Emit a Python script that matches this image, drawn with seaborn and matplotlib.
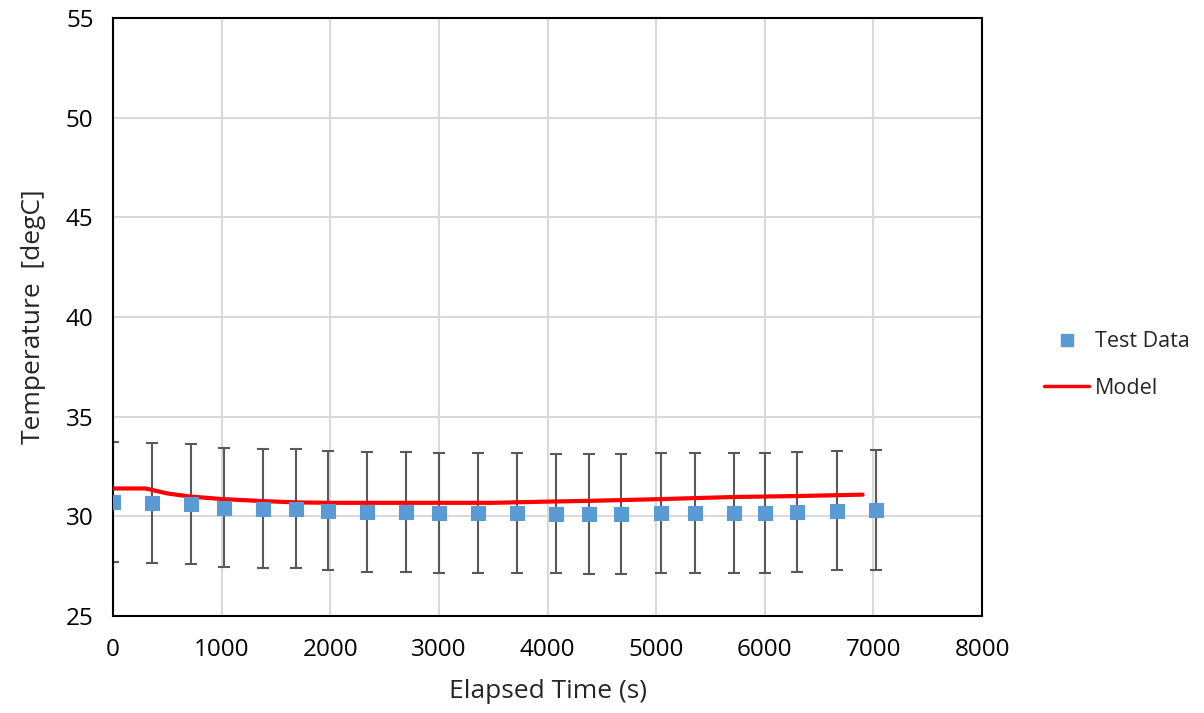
import matplotlib.pyplot as plt
import matplotlib.lines as mlines
import seaborn as sns
import pandas as pd

# Test data (mean temperature, error bar +/-)
test_time = [0, 360, 720, 1020, 1380, 1680, 1980, 2340, 2700, 3000, 3360, 3720,
             4080, 4380, 4680, 5040, 5360, 5720, 6000, 6300, 6660, 7020]
test_temp = [30.73, 30.68, 30.63, 30.44, 30.39, 30.39, 30.29, 30.22, 30.22, 30.17, 30.17, 30.17,
             30.14, 30.12, 30.12, 30.17, 30.17, 30.17, 30.17, 30.22, 30.29, 30.32]
test_err = [3.0] * len(test_time)

# Model curve
model_time = [0, 300, 500, 700, 1000, 1400, 1700, 2000, 3500, 4000, 4400, 5000, 5700, 6300, 6900]
model_temp = [31.4, 31.4, 31.15, 31.0, 30.87, 30.76, 30.70, 30.68, 30.68, 30.74, 30.78, 30.86, 30.97, 31.02, 31.09]

test_df = pd.DataFrame({'t': test_time, 'T': test_temp, 'err': test_err})
model_df = pd.DataFrame({'t': model_time, 'T': model_temp})

sns.set_style("white")
plt.rcParams['font.family'] = ['Open Sans', 'DejaVu Sans']

fig = plt.figure(figsize=(12.04, 7.13), dpi=100)
ax = fig.add_axes([0.0939, 0.136, 0.7218, 0.8387])

blue = '#5B9BD5'
red = '#FF0000'

ax.errorbar(test_df['t'], test_df['T'], yerr=test_df['err'], fmt='none',
            ecolor='#595959', elinewidth=1.5, capsize=4.5, capthick=1.5, zorder=2)
sns.lineplot(data=model_df, x='t', y='T', color=red, linewidth=3, ax=ax, zorder=3)
sns.scatterplot(data=test_df, x='t', y='T', marker='s', s=95, color=blue,
                edgecolor=blue, ax=ax, zorder=4)

ax.set_xlim(0, 8000)
ax.set_ylim(25, 55)
ax.set_xticks(range(0, 8001, 1000))
ax.set_yticks(range(25, 56, 5))
ax.grid(True, color='#D9D9D9', linewidth=1.5)
ax.set_axisbelow(True)
for s in ax.spines.values():
    s.set_visible(True)
    s.set_color('black')
    s.set_linewidth(1.5)
ax.tick_params(axis='y', length=0, labelsize=17.5, pad=14, colors='black')
ax.tick_params(axis='x', length=0, labelsize=17.5, pad=16, colors='black')
ax.set_xlabel('Elapsed Time (s)', fontsize=19, labelpad=12)
ax.set_ylabel('Temperature  [degC]', fontsize=19, labelpad=14)

handles = [
    mlines.Line2D([], [], color=blue, marker='s', linestyle='none', markersize=9),
    mlines.Line2D([], [], color=red, linewidth=2.5),
]
fig.legend(handles, ['Test Data', 'Model'], loc='center left',
           bbox_to_anchor=(0.851, 0.488), frameon=False, fontsize=15.5,
           handlelength=2.1, handletextpad=0.25, labelspacing=1.2)

fig.savefig('out.png', dpi=100)
